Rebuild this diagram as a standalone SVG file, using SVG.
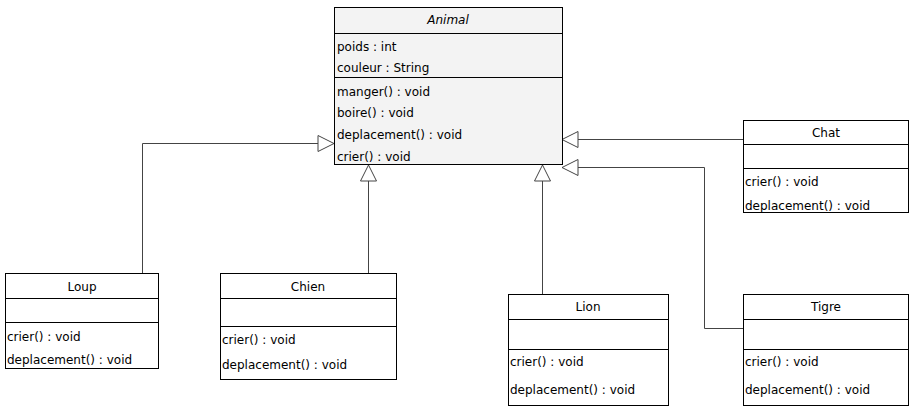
<svg xmlns="http://www.w3.org/2000/svg" width="910" height="407" viewBox="0 0 910 407">
<style>
.box{fill:#fff;stroke:#000;stroke-width:1}
.abs{fill:#f3f3f3;stroke:#000;stroke-width:1}
.sep{stroke:#000;stroke-width:1}
text{font-family:"DejaVu Sans","Liberation Sans",sans-serif;font-size:12px;fill:#000}
.t{text-anchor:middle}
.it{font-style:italic}
.con{fill:none;stroke:#444;stroke-width:1}
</style>
<defs>
<marker id="gen" markerUnits="userSpaceOnUse" markerWidth="18" markerHeight="18" refX="16" refY="8" orient="auto" overflow="visible">
<path d="M0,0 L16,8 L0,16 Z" fill="#fff" stroke="#444" stroke-width="1"/>
</marker>
</defs>
<g id="connectors">
<path class="con" d="M142.5,273 V143.5 H334" marker-end="url(#gen)"/>
<path class="con" d="M368.5,273 V165" marker-end="url(#gen)"/>
<path class="con" d="M542.5,294 V165" marker-end="url(#gen)"/>
<path class="con" d="M743,139.5 H562" marker-end="url(#gen)"/>
<path class="con" d="M743,328.5 H704.5 V167.5 H562" marker-end="url(#gen)"/>
</g>
<g id="Animal">
<rect class="abs" x="334.5" y="7.5" width="228" height="157"/>
<line class="sep" x1="334.5" y1="33.5" x2="562.5" y2="33.5"/>
<line class="sep" x1="334.5" y1="77.5" x2="562.5" y2="77.5"/>
<text class="t it" x="448" y="24">Animal</text>
<text x="337" y="51">poids : int</text>
<text x="337" y="72">couleur : String</text>
<text x="337" y="96">manger() : void</text>
<text x="337" y="117">boire() : void</text>
<text x="337" y="139">deplacement() : void</text>
<text x="337" y="161">crier() : void</text>
</g>
<g id="Loup">
<rect class="box" x="5.5" y="273.5" width="153" height="95"/>
<line class="sep" x1="5.5" y1="298.5" x2="158.5" y2="298.5"/>
<line class="sep" x1="5.5" y1="322.5" x2="158.5" y2="322.5"/>
<text class="t" x="82" y="291">Loup</text>
<text x="7" y="341">crier() : void</text>
<text x="7" y="364">deplacement() : void</text>
</g>
<g id="Chien">
<rect class="box" x="220.5" y="273.5" width="176" height="106"/>
<line class="sep" x1="220.5" y1="298.5" x2="396.5" y2="298.5"/>
<line class="sep" x1="220.5" y1="326.5" x2="396.5" y2="326.5"/>
<text class="t" x="308" y="291">Chien</text>
<text x="222" y="344">crier() : void</text>
<text x="222" y="369">deplacement() : void</text>
</g>
<g id="Lion">
<rect class="box" x="508.5" y="294.5" width="160" height="111"/>
<line class="sep" x1="508.5" y1="319.5" x2="668.5" y2="319.5"/>
<line class="sep" x1="508.5" y1="349.5" x2="668.5" y2="349.5"/>
<text class="t" x="588" y="311">Lion</text>
<text x="510" y="366">crier() : void</text>
<text x="510" y="394">deplacement() : void</text>
</g>
<g id="Chat">
<rect class="box" x="743.5" y="120.5" width="165" height="92"/>
<line class="sep" x1="743.5" y1="144.5" x2="908.5" y2="144.5"/>
<line class="sep" x1="743.5" y1="168.5" x2="908.5" y2="168.5"/>
<text class="t" x="826" y="137">Chat</text>
<text x="745" y="186">crier() : void</text>
<text x="745" y="210">deplacement() : void</text>
</g>
<g id="Tigre">
<rect class="box" x="743.5" y="294.5" width="165" height="111"/>
<line class="sep" x1="743.5" y1="319.5" x2="908.5" y2="319.5"/>
<line class="sep" x1="743.5" y1="349.5" x2="908.5" y2="349.5"/>
<text class="t" x="826" y="311">Tigre</text>
<text x="745" y="366">crier() : void</text>
<text x="745" y="394">deplacement() : void</text>
</g>
</svg>
